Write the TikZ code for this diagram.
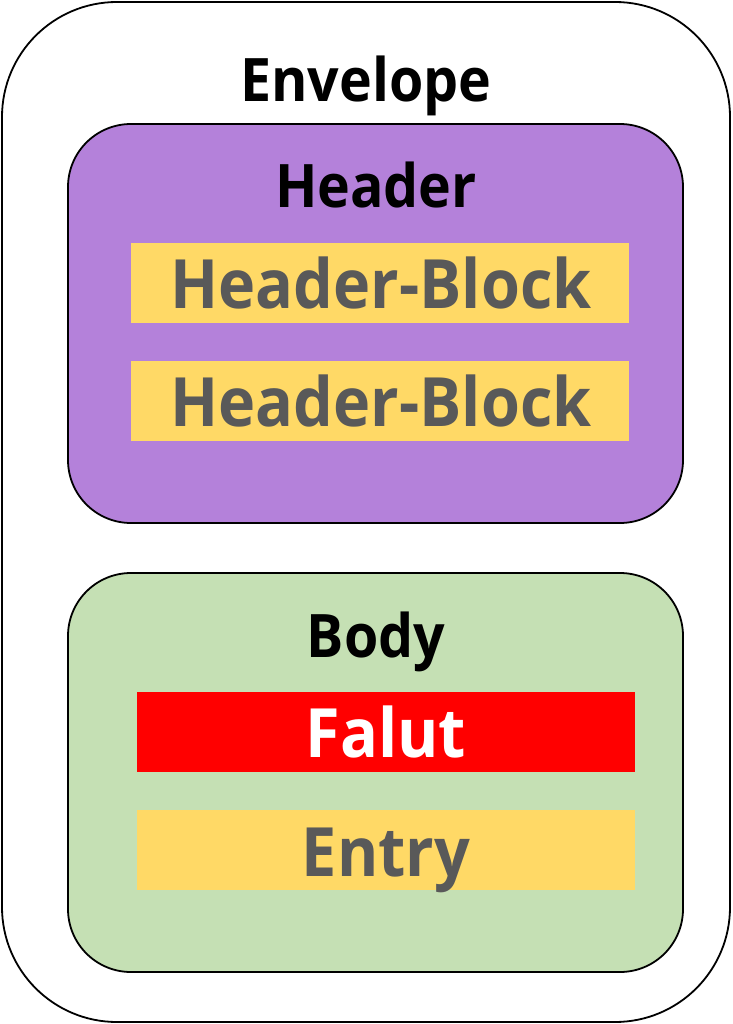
\documentclass[tikz,border=0pt]{standalone}
\usepackage{fontspec}
\setmainfont{Open Sans}
\newfontfamily\dfont{Open Sans Bold}[FakeStretch=0.925]
\definecolor{hdr}{HTML}{B481DA}
\definecolor{blk}{HTML}{FFD966}
\definecolor{bdy}{HTML}{C5E0B4}
\definecolor{gtxt}{HTML}{595959}
\definecolor{flt}{HTML}{FF0000}
\tikzset{
  container/.style={draw=black, line width=1.8pt, rounded corners=63pt},
  title/.style={anchor=base, inner sep=0pt, font=\fontsize{60}{60}\dfont, text=black},
  blocktext/.style={anchor=base, inner sep=0pt, font=\fontsize{68}{68}\dfont, text=gtxt},
}
\begin{document}
\begin{tikzpicture}[x=1pt,y=-1pt]
\useasboundingbox (0,0) rectangle (732,1024);
% Envelope
\draw[draw=black, line width=1.8pt, rounded corners=115pt, fill=white] (2,2) rectangle (730,1022);
\node[title] (envt) at (366,102) {Envelope};
% Header
\draw[container, fill=hdr] (68,124) rectangle (683,523);
\node[title] (hdrt) at (376,208) {Header};
\fill[blk] (131,243) rectangle (629,323);
\node[blocktext] (hb1) at (381,308) {Header-Block};
\fill[blk] (131,361) rectangle (629,441);
\node[blocktext] (hb2) at (381,426) {Header-Block};
% Body
\draw[container, fill=bdy] (68,573) rectangle (683,972);
\node[title] (bdyt) at (376,657) {Body};
\fill[flt] (137,692) rectangle (635,772);
\node[blocktext, text=white] (fltt) at (386,757) {Falut};
\fill[blk] (137,810) rectangle (635,890);
\node[blocktext] (ent) at (386,876) {Entry};
\end{tikzpicture}
\end{document}
